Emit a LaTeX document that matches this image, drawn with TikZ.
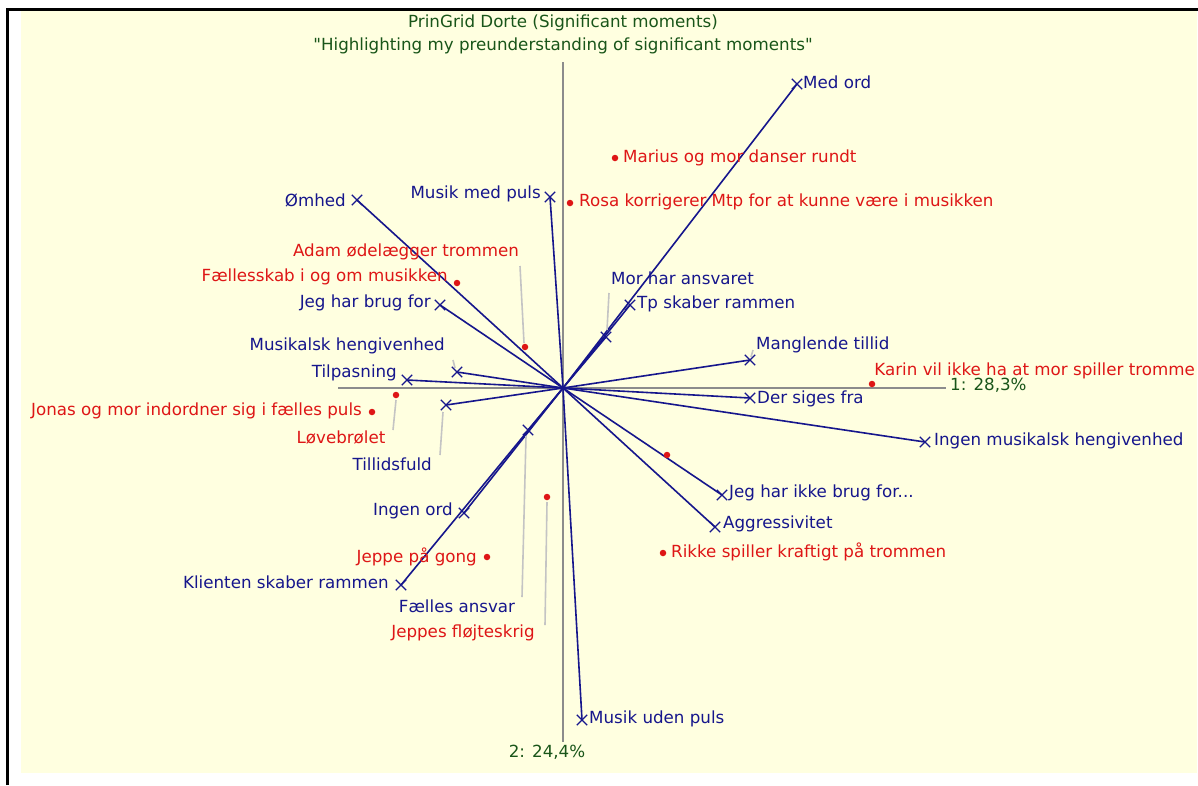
\documentclass[tikz,border=0pt]{standalone}
\usepackage{fontspec}
\setmainfont{DejaVu Sans}[Ligatures=TeXOff]
\usetikzlibrary{shapes.misc}
\definecolor{bg}{RGB}{255,255,224}
\definecolor{navy}{RGB}{22,22,140}
\definecolor{elred}{RGB}{222,22,22}
\definecolor{axgreen}{RGB}{25,85,25}
\definecolor{axgrey}{RGB}{140,140,140}
\definecolor{leadergrey}{RGB}{196,196,196}
\tikzset{
  pole/.style={cross out, draw=navy, line width=1.3pt, minimum size=9pt, inner sep=0pt},
  elem/.style={circle, fill=elred, minimum size=6.5pt, inner sep=0pt},
  ray/.style={navy, line width=1.6pt},
  axisline/.style={axgrey, line width=1.6pt},
  leaderline/.style={leadergrey, line width=1.6pt},
  plab/.style={text=navy, inner sep=0pt},
  elab/.style={text=elred, inner sep=0pt},
  axlab/.style={text=axgreen, inner sep=0pt},
}
\begin{document}
\begin{tikzpicture}[x=1pt, y=-1pt, font=\fontsize{16.7}{19}\selectfont]
% page and frame
\useasboundingbox (0,0) rectangle (1198,785);
\fill[white] (0,0) rectangle (1198,785);
\fill[bg] (21,10.5) rectangle (1197,773);
\draw[black, line width=3pt] (7,785) -- (7,9) -- (1198,9);

% title
\node[axlab, align=center, font=\fontsize{16.7}{23}\selectfont] (title) at (563,34) {PrinGrid Dorte (Significant moments)\\"Highlighting my preunderstanding of significant moments"};

% axes
\coordinate (O) at (563,388);
\coordinate (xl) at (338,388);
\coordinate (xr) at (946,388);
\coordinate (yt) at (563,62);
\coordinate (yb) at (563,742);
\draw[axisline] (xl) -- (xr);
\draw[axisline] (yt) -- (yb);
\node[axlab, anchor=west] (ax1) at (950,385) {1: 28,3\%};
\node[axlab, anchor=north] (ax2) at (547,745) {2: 24,4\%};

% construct pole positions
\coordinate (medord) at (797,84);
\coordinate (musikmed) at (550,197);
\coordinate (omhed) at (357,200);
\coordinate (jeghar) at (440,305);
\coordinate (mushengiv) at (457,372);
\coordinate (tilpas) at (407,380);
\coordinate (tillid) at (446,405);
\coordinate (ingenord) at (464,513);
\coordinate (klient) at (401,585);
\coordinate (faelles) at (528,430);
\coordinate (morhar) at (606,337);
\coordinate (tp) at (630,305);
\coordinate (mangl) at (750,360);
\coordinate (dersiges) at (750,398);
\coordinate (ingenmus) at (925,442);
\coordinate (jegikke) at (722,495);
\coordinate (aggr) at (715,527);
\coordinate (musikuden) at (582,720);

% rays from the origin
\foreach \p in {medord,musikmed,omhed,jeghar,mushengiv,tilpas,tillid,ingenord,klient,faelles,morhar,tp,mangl,dersiges,ingenmus,jegikke,aggr,musikuden}
  \draw[ray] (O) -- (\p);

% leader lines
\draw[leaderline] (453,360) -- (455,368);
\draw[leaderline] (443,412) -- (440,455);
\draw[leaderline] (526,436) -- (522,597);
\draw[leaderline] (609,293) -- (607,330);
\draw[leaderline] (753,350) -- (751,357);
\draw[leaderline] (520,266) -- (524,343);
\draw[leaderline] (396,400) -- (393,430);
\draw[leaderline] (547,502) -- (545,625);

% pole markers
\foreach \p in {medord,musikmed,omhed,jeghar,mushengiv,tilpas,tillid,ingenord,klient,faelles,morhar,tp,mangl,dersiges,ingenmus,jegikke,aggr,musikuden}
  \node[pole] (m-\p) at (\p) {};

% pole labels
\node[plab, anchor=west] (l-medord) at (803,82) {Med ord};
\node[plab, anchor=east] (l-musikmed) at (541,194) {Musik med puls};
\node[plab, anchor=east] (l-omhed) at (346,200) {Ømhed};
\node[plab, anchor=east] (l-jeghar) at (431,303) {Jeg har brug for};
\node[plab, anchor=east] (l-mushengiv) at (445,346) {Musikalsk hengivenhed};
\node[plab, anchor=east] (l-tilpas) at (397,373) {Tilpasning};
\node[plab, anchor=east] (l-tillid) at (432,464) {Tillidsfuld};
\node[plab, anchor=east] (l-ingenord) at (453,511) {Ingen ord};
\node[plab, anchor=east] (l-klient) at (389,582) {Klienten skaber rammen};
\node[plab] (l-faelles) at (457,606) {Fælles ansvar};
\node[plab, anchor=west] (l-morhar) at (611,278) {Mor har ansvaret};
\node[plab, anchor=west] (l-tp) at (637,304) {Tp skaber rammen};
\node[plab, anchor=west] (l-mangl) at (756,345) {Manglende tillid};
\node[plab, anchor=west] (l-dersiges) at (757,399) {Der siges fra};
\node[plab, anchor=west] (l-ingenmus) at (934,441) {Ingen musikalsk hengivenhed};
\node[plab, anchor=west] (l-jegikke) at (729,493) {Jeg har ikke brug for...};
\node[plab, anchor=west] (l-aggr) at (723,524) {Aggressivitet};
\node[plab, anchor=west] (l-musikuden) at (589,719) {Musik uden puls};

% elements
\node[elem] (e-marius) at (615,158) {};
\node[elem] (e-rosa) at (570,203) {};
\node[elem] (e-adam) at (525,347) {};
\node[elem] (e-faellesskab) at (457,283) {};
\node[elem] (e-karin) at (872,384) {};
\node[elem] (e-jonas) at (372,412) {};
\node[elem] (e-love) at (396,395) {};
\node[elem] (e-jeppegong) at (487,557) {};
\node[elem] (e-jeppefl) at (547,497) {};
\node[elem] (e-rikke) at (663,553) {};
\node[elem] (e-extra) at (667,455) {};

% element labels
\node[elab, anchor=west] (t-marius) at (623,158) {Marius og mor danser rundt};
\node[elab, anchor=west] (t-rosa) at (579,202) {Rosa korrigerer Mtp for at kunne være i musikken};
\node[elab] (t-adam) at (406,252) {Adam ødelægger trommen};
\node[elab, anchor=east] (t-faellesskab) at (448,277) {Fællesskab i og om musikken};
\node[elab, anchor=east] (t-karin) at (1195,371) {Karin vil ikke ha at mor spiller tromme};
\node[elab, anchor=east] (t-jonas) at (362,411) {Jonas og mor indordner sig i fælles puls};
\node[elab] (t-love) at (341,438) {Løvebrølet};
\node[elab, anchor=east] (t-jeppegong) at (477,557) {Jeppe på gong};
\node[elab] (t-jeppefl) at (463,633) {Jeppes fløjteskrig};
\node[elab, anchor=west] (t-rikke) at (671,552) {Rikke spiller kraftigt på trommen};
\end{tikzpicture}
\end{document}
